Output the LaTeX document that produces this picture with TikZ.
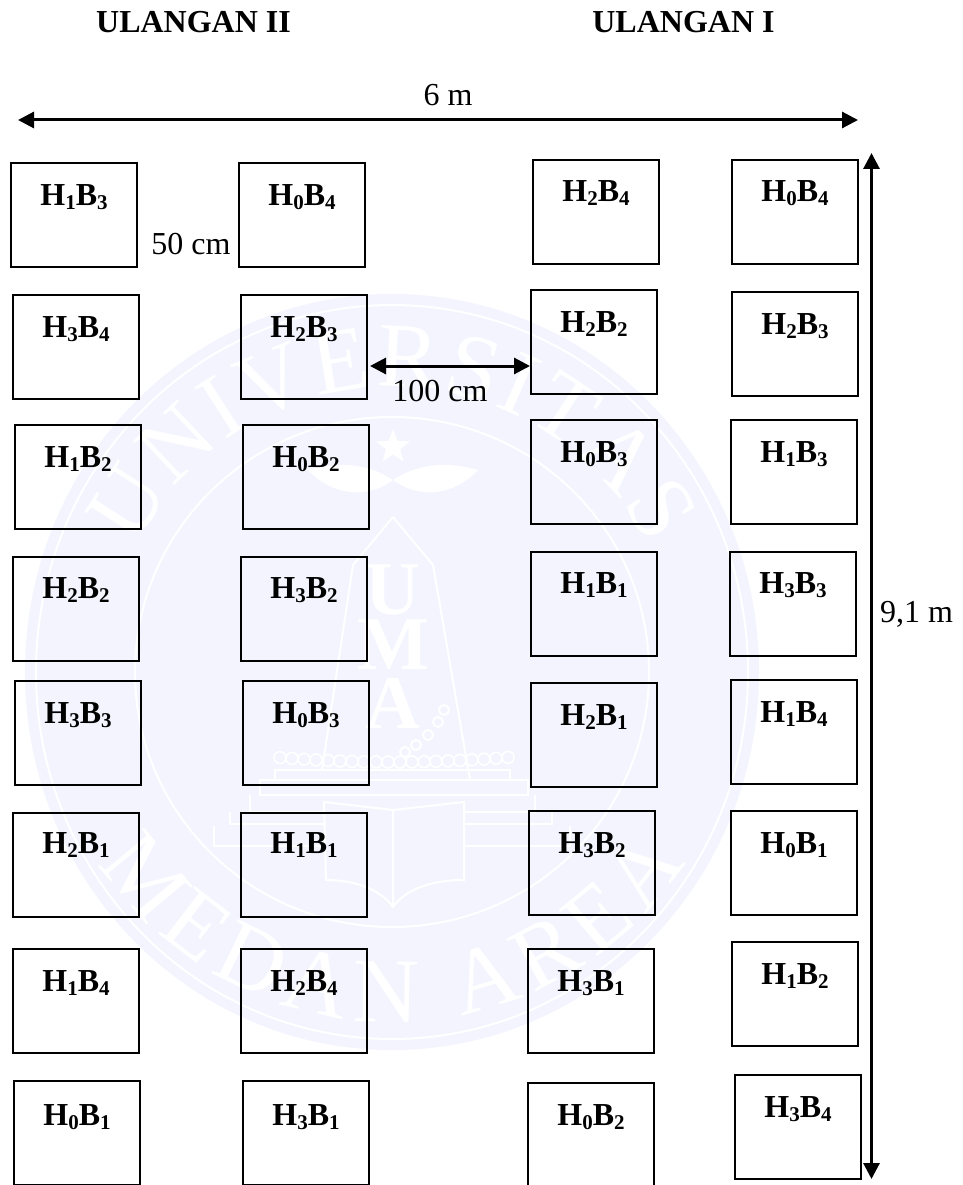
\documentclass[tikz,border=0pt]{standalone}
\usepackage{fontspec}
\setmainfont{Liberation Serif}
\usetikzlibrary{arrows.meta,calc,decorations.text,shapes.geometric}
\definecolor{wmtint}{HTML}{F3F4FE}
\newcommand{\HBtext}[2]{H\raisebox{-0.13em}{\fontsize{21}{21}\selectfont #1}B\raisebox{-0.13em}{\fontsize{21}{21}\selectfont #2}}
% name, left, top, H index, B index, baseline offset below top edge
\newcommand{\plotcell}[6]{%
  \node[plotbox,anchor=north west] (#1) at (#2,#3) {};
  \node[plotlab] (#1t) at ($(#1.north)+(0,-#6pt)$) {\HBtext{#4}{#5}};
}
\tikzset{
  plotbox/.style={draw=black,line width=1.8pt,fill=none,minimum width=126pt,minimum height=104pt,inner sep=0pt,outer sep=0pt},
  plotlab/.style={anchor=base,inner sep=0pt,font=\fontsize{32}{36}\selectfont\bfseries},
  txt/.style={inner sep=0pt,anchor=base,font=\fontsize{32}{36}\selectfont},
  head/.style={inner sep=0pt,anchor=base,font=\fontsize{32}{36}\selectfont\bfseries},
  dim/.style={line width=3pt,{Triangle[length=16pt,width=16pt]}-{Triangle[length=16pt,width=16pt]}},
  wmline/.style={draw=white,line width=2pt},
  wmletter/.style={inner sep=0pt,text=white,font=\fontsize{76}{80}\selectfont\bfseries}
}
\begin{document}
\begin{tikzpicture}[x=1pt,y=-1pt]
\clip (0,0) rectangle (962,1185);
\fill[white] (0,0) rectangle (962,1185);
% faint watermark seal
\fill[wmtint] (392,672) ellipse[x radius=367,y radius=378];
\draw[wmline] (392,672) ellipse[x radius=356,y radius=367];
\draw[wmline] (392,672) ellipse[x radius=257,y radius=255];
\path[decorate,decoration={text along path,text align={fit to path},text={|\fontsize{92}{94}\selectfont\color{white}|UNIVERSITAS}}]
  (392,672) ++(206:285) arc[start angle=206,end angle=334,radius=285];
\path[decorate,decoration={text along path,text align={fit to path},text={|\fontsize{92}{94}\selectfont\color{white}|MEDAN AREA}}]
  (392,672) ++(147:350) arc[start angle=147,end angle=33,radius=350];
\draw[wmline] (393,517) -- (433,565) -- (470,780) (393,517) -- (353,565) -- (322,770);
\node[wmletter] (wmU) at (393,590) {U};
\node[wmletter] (wmM) at (393,645) {M};
\node[wmletter] (wmA) at (393,703) {A};
\node[star,star points=5,star point ratio=2.4,fill=white,minimum size=36pt,inner sep=0pt] (wmS) at (393,447) {};
\fill[white] (393,480) .. controls (420,462) and (450,462) .. (478,470) .. controls (455,495) and (420,500) .. cycle;
\fill[white] (393,480) .. controls (366,462) and (336,462) .. (308,470) .. controls (331,495) and (366,500) .. cycle;
\foreach \bx in {280,292,...,508}{\draw[draw=white,line width=1.6pt] (\bx,{762+0.00035*(\bx-393)*(\bx-393)*-1}) circle[radius=6];}
\foreach \bx/\by in {444/710,438/722,428/735,416/745,405/752}{\draw[draw=white,line width=2pt] (\bx,\by) circle[radius=5];}
\draw[wmline] (275,770) rectangle (510,780);
\draw[wmline] (260,780) rectangle (528,795);
\draw[wmline] (250,795) -- (250,812) -- (324,812) (464,812) -- (535,812) -- (535,795);
\draw[wmline] (230,812) -- (230,824) -- (324,824) (464,824) -- (552,824) -- (552,812);
\draw[wmline] (214,826) -- (214,846) -- (324,846) (464,846) -- (570,846) -- (570,826);
\draw[wmline] (324,802) -- (393,810) -- (464,802) -- (464,880) .. controls (430,880) and (405,890) .. (393,907) .. controls (381,890) and (356,880) .. (326,880) -- cycle (393,810) -- (393,907);

% Ulangan II
\plotcell{a1}{11}{163}{1}{3}{42}
\plotcell{a2}{13}{295}{3}{4}{42}
\plotcell{a3}{15}{425}{1}{2}{42}
\plotcell{a4}{13}{557}{2}{2}{41}
\plotcell{a5}{15}{681}{3}{3}{42}
\plotcell{a6}{13}{813}{2}{1}{40}
\plotcell{a7}{13}{949}{1}{4}{42}
\plotcell{a8}{14}{1081}{0}{1}{44}
\plotcell{b1}{239}{163}{0}{4}{42}
\plotcell{b2}{241}{295}{2}{3}{42}
\plotcell{b3}{243}{425}{0}{2}{42}
\plotcell{b4}{241}{557}{3}{2}{41}
\plotcell{b5}{243}{681}{0}{3}{42}
\plotcell{b6}{241}{813}{1}{1}{40}
\plotcell{b7}{241}{949}{2}{4}{42}
\plotcell{b8}{243}{1081}{3}{1}{44}
% Ulangan I
\plotcell{c1}{533}{160}{2}{4}{41}
\plotcell{c2}{531}{290}{2}{2}{42}
\plotcell{c3}{531}{420}{0}{3}{42}
\plotcell{c4}{531}{552}{1}{1}{41}
\plotcell{c5}{531}{683}{2}{1}{42}
\plotcell{c6}{529}{811}{3}{2}{42}
\plotcell{c7}{528}{949}{3}{1}{42}
\plotcell{c8}{528}{1083}{0}{2}{42}
\plotcell{d1}{732}{160}{0}{4}{41}
\plotcell{d2}{732}{292}{2}{3}{42}
\plotcell{d3}{731}{420}{1}{3}{42}
\plotcell{d4}{730}{552}{3}{3}{41}
\plotcell{d5}{731}{680}{1}{4}{42}
\plotcell{d6}{731}{811}{0}{1}{42}
\plotcell{d7}{732}{942}{1}{2}{42}
\plotcell{d8}{735}{1075}{3}{4}{42}

\node[head] (h2) at (193.5,33) {ULANGAN II};
\node[head] (h1) at (683.5,33) {ULANGAN I};
\node[txt] (w) at (448,106) {6 m};
\node[txt] (cm50) at (191,254) {50 cm};
\node[txt] (cm100) at (440,401) {100 cm};
\node[txt,anchor=base west] (len) at (880,622) {9,1 m};

\coordinate (wL) at (18,120);
\coordinate (wR) at (858,120);
\coordinate (lT) at (871.5,153);
\coordinate (lB) at (871.5,1179);
\coordinate (gL) at (370,366);
\coordinate (gR) at (530,366);
\draw[dim] (wL) -- (wR);
\draw[dim] (lT) -- (lB);
\draw[dim] (gL) -- (gR);
\end{tikzpicture}
\end{document}
